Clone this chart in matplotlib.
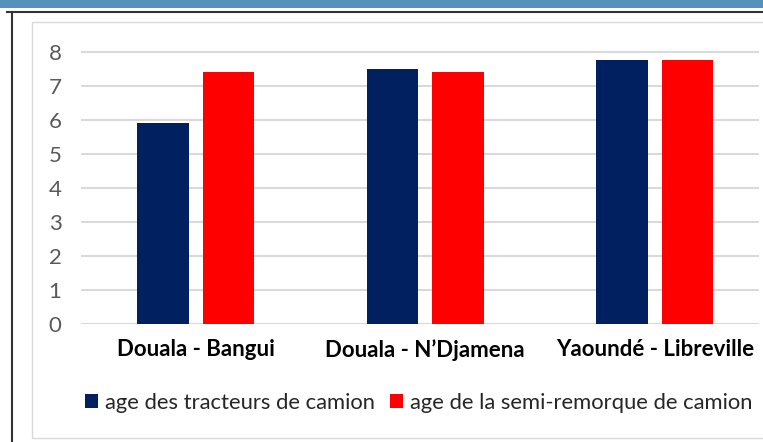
import numpy as np
import matplotlib.pyplot as plt
from matplotlib.patches import Rectangle
from matplotlib.lines import Line2D

# Données du graphique
categories = ['Douala - Bangui', 'Douala - N\u2019Djamena', 'Yaound\u00e9 - Libreville']
age_tracteurs = [5.9, 7.5, 7.75]
age_semi_remorque = [7.4, 7.4, 7.75]
series_labels = ['age des tracteurs de camion', 'age de la semi-remorque de camion']
yticks = [0, 1, 2, 3, 4, 5, 6, 7, 8]

plt.rcParams['font.family'] = ['Lato', 'DejaVu Sans']

W, H = 763, 442
fig = plt.figure(figsize=(W / 100, H / 100), dpi=100)

# Cadre de la diapositive
fig.patches.append(Rectangle((0, 1 - 7.5 / H), 1, 7.5 / H, transform=fig.transFigure,
                             facecolor='#5592BA', edgecolor='none'))
fig.lines.append(Line2D([7 / W, 1], [1 - 11.7 / H] * 2, transform=fig.transFigure,
                        color='#333333', lw=1.5))
fig.lines.append(Line2D([12 / W] * 2, [0, 1 - 11.7 / H], transform=fig.transFigure,
                        color='#333333', lw=1.5))
fig.patches.append(Rectangle((31.7 / W, 1 - 437.5 / H), 1, (437.5 - 22) / H,
                             transform=fig.transFigure, facecolor='none',
                             edgecolor='#D9D9D9', lw=1))

ymax = 8.3
ax = fig.add_axes([81 / W, 1 - 323.7 / H, 678 / W, ymax * 34 / H])
x = np.arange(len(categories))
bw = 0.224
off = 0.1425
ax.bar(x - off, age_tracteurs, bw, color='#002060', label=series_labels[0], zorder=3)
ax.bar(x + off, age_semi_remorque, bw, color='#FF0000', label=series_labels[1], zorder=3)

ax.set_xlim(-0.5, -0.5 + 678 / 229.5)
ax.set_ylim(0, ymax)
ax.set_yticks(yticks)
ax.grid(axis='y', color='#D9D9D9', lw=1.5, zorder=0)
for s in ax.spines.values():
    s.set_visible(False)
ax.tick_params(axis='y', length=0, pad=14, labelsize=16, labelcolor='#595959')
ax.tick_params(axis='x', length=0, pad=11)
ax.set_xticks(x)
ax.set_xticklabels(categories, fontsize=16, fontweight='bold', color='black')

fig.legend(loc='center', bbox_to_anchor=(418.5 / W, 1 - 403 / H), ncol=2, frameon=False,
           fontsize=15.8, handlelength=0.6, handleheight=0.6, handletextpad=0.3,
           columnspacing=0.7, labelcolor='#262626')

fig.savefig('out.png', dpi=100)
